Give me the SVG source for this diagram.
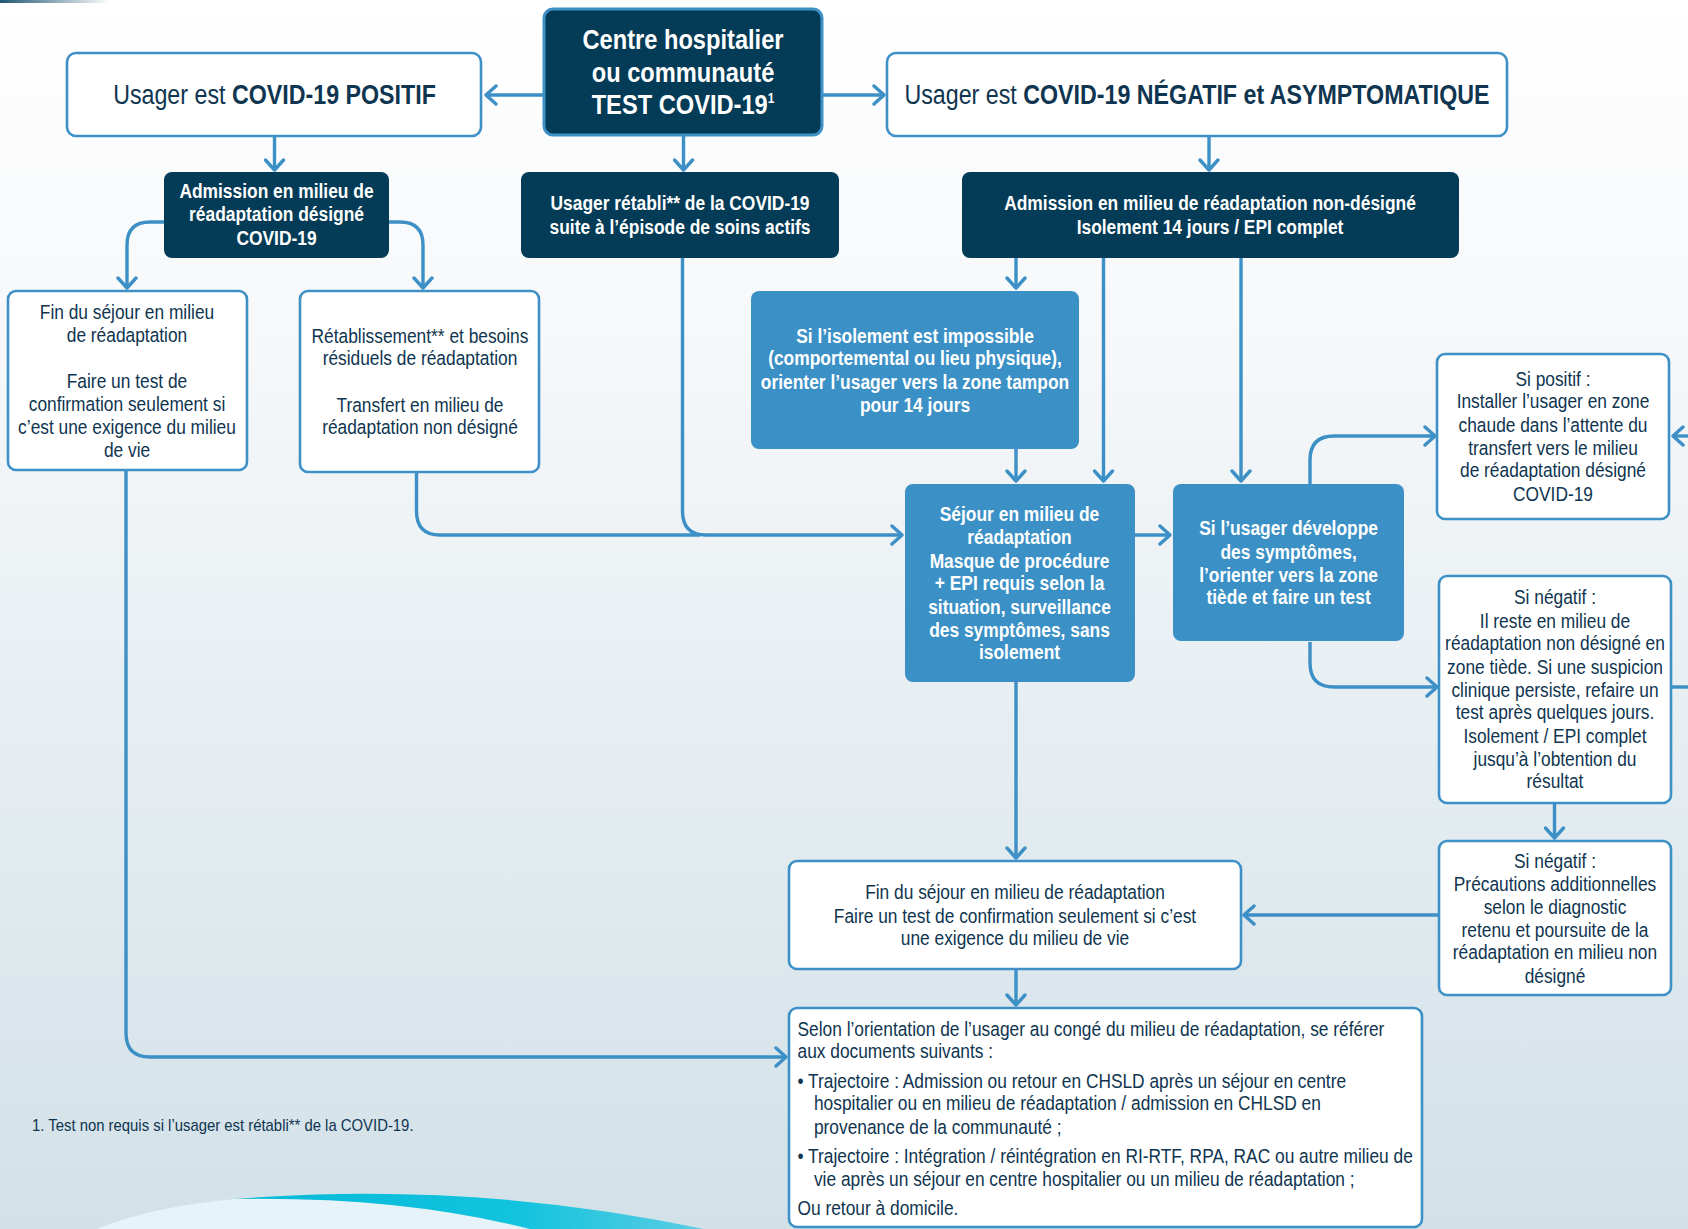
<svg xmlns="http://www.w3.org/2000/svg" width="1688" height="1229" viewBox="0 0 1688 1229">
<defs>
<linearGradient id="bg" x1="0" y1="0" x2="0" y2="1">
<stop offset="0" stop-color="#ffffff"/>
<stop offset="0.3" stop-color="#f5f7f9"/>
<stop offset="1" stop-color="#d2e1e8"/>
</linearGradient>
<linearGradient id="topbar" x1="0" y1="0" x2="1" y2="0">
<stop offset="0" stop-color="#1f5673"/>
<stop offset="1" stop-color="#1f5673" stop-opacity="0"/>
</linearGradient>
<linearGradient id="cyan" x1="0" y1="0" x2="1" y2="0">
<stop offset="0" stop-color="#05b9d8"/>
<stop offset="0.6" stop-color="#12c3de"/>
<stop offset="1" stop-color="#5ccde3"/>
</linearGradient>
<marker id="ah" viewBox="0 0 14 22" refX="12" refY="11" markerWidth="14" markerHeight="22" orient="auto" markerUnits="userSpaceOnUse">
<path d="M2,2 L12,11 L2,20" fill="none" stroke="#3d90c6" stroke-width="3.4" stroke-linecap="round" stroke-linejoin="round"/>
</marker>
<style>
.t{font-family:"Liberation Sans",Arial,sans-serif;}
.w{fill:#ffffff;stroke:#3e91c6;stroke-width:2.6;}
.d{fill:#043b57;}
.b{fill:#3b90c5;}
.dt{fill:#0f3550;font-size:19.5px;text-anchor:middle;}
.wt{fill:#ffffff;font-size:20px;font-weight:bold;text-anchor:middle;}
.big{fill:#0f3550;font-size:28px;text-anchor:middle;}
.st{text-anchor:start;}
.c{fill:none;stroke:#3d90c6;stroke-width:3.4;}
.a{marker-end:url(#ah);}
</style>
</defs>
<rect x="0" y="0" width="1688" height="1229" fill="url(#bg)"/>
<rect x="0" y="0" width="110" height="3" fill="url(#topbar)"/>
<path d="M97,1229 Q150,1207 235,1199 Q400,1196 530,1229 Z" fill="#e6f4f9"/>
<path d="M235,1199 Q470,1180 704,1229 L530,1229 Q400,1196 235,1199 Z" fill="url(#cyan)"/>

<g id="connectors">
<path class="c a" d="M544,95 H486"/>
<path class="c a" d="M822,95 H884"/>
<path class="c a" d="M274.5,136 V170"/>
<path class="c a" d="M683.5,135 V170"/>
<path class="c a" d="M1209,136 V170"/>
<path class="c a" d="M164,222 H150 Q127,222 127,245 V288"/>
<path class="c a" d="M389,222 H400 Q423,222 423,245 V288"/>
<path class="c a" d="M682.5,258 V511 Q682.5,535 706,535 H902"/>
<path class="c" d="M416.5,472 V511 Q416.5,535 440,535 H700"/>
<path class="c a" d="M1016,258 V288"/>
<path class="c a" d="M1103.5,258 V481"/>
<path class="c a" d="M1241,258 V481"/>
<path class="c a" d="M1016,449 V481"/>
<path class="c a" d="M1135,535 H1170"/>
<path class="c a" d="M1310,484 V460 Q1310,436 1334,436 H1435"/>
<path class="c a" d="M1310,642 V663 Q1310,687 1334,687 H1437"/>
<path class="c" d="M1671,687 H1700"/>
<path class="c a" d="M1700,436 H1673"/>
<path class="c a" d="M1554.5,803 V838"/>
<path class="c a" d="M1439,915 H1244"/>
<path class="c a" d="M1016,682 V858"/>
<path class="c a" d="M1016,969 V1005"/>
<path class="c a" d="M126,470 V1033 Q126,1057 150,1057 H786"/>
</g>

<g id="n-centre">
<rect x="544" y="9" width="278" height="126" rx="9" fill="#043b57" stroke="#3e91c6" stroke-width="3"/>
<g transform="translate(683,0) scale(0.845,1)">
<text class="t wt" style="font-size:28px" x="0" y="49.5">Centre hospitalier</text>
<text class="t wt" style="font-size:28px" x="0" y="81.8">ou communauté</text>
<text class="t wt" style="font-size:28px" x="0" y="114">TEST COVID-19<tspan font-size="14" dy="-11">1</tspan></text>
</g>
</g>

<g id="n-positif">
<rect class="w" x="67" y="53" width="414" height="83" rx="9"/>
<g transform="translate(274.5,0) scale(0.83,1)">
<text class="t big" x="0" y="104">Usager est <tspan font-weight="bold">COVID-19 POSITIF</tspan></text>
</g>
</g>

<g id="n-negatif">
<rect class="w" x="887" y="53" width="620" height="83" rx="9"/>
<g transform="translate(1197,0) scale(0.83,1)">
<text class="t big" x="0" y="104">Usager est <tspan font-weight="bold">COVID-19 NÉGATIF et ASYMPTOMATIQUE</tspan></text>
</g>
</g>

<g id="n-adm-designe">
<rect class="d" x="164" y="172" width="225" height="86" rx="8"/>
<g transform="translate(276.5,0) scale(0.87,1)">
<text class="t wt" x="0" y="198.5">Admission en milieu de</text>
<text class="t wt" x="0" y="221">réadaptation désigné</text>
<text class="t wt" x="0" y="244.7">COVID-19</text>
</g>
</g>

<g id="n-retabli">
<rect class="d" x="521" y="172" width="318" height="86" rx="8"/>
<g transform="translate(680,0) scale(0.87,1)">
<text class="t wt" x="0" y="210.4">Usager rétabli** de la COVID-19</text>
<text class="t wt" x="0" y="234">suite à l’épisode de soins actifs</text>
</g>
</g>

<g id="n-adm-non-designe">
<rect class="d" x="962" y="172" width="497" height="86" rx="8"/>
<g transform="translate(1210,0) scale(0.87,1)">
<text class="t wt" x="0" y="210.4">Admission en milieu de réadaptation non-désigné</text>
<text class="t wt" x="0" y="234">Isolement 14 jours / EPI complet</text>
</g>
</g>

<g id="n-fin-sejour-gauche">
<rect class="w" x="8" y="291" width="239" height="179" rx="8"/>
<g transform="translate(127,0) scale(0.89,1)">
<text class="t dt" x="0" y="319">Fin du séjour en milieu</text>
<text class="t dt" x="0" y="341.6">de réadaptation</text>
<text class="t dt" x="0" y="388">Faire un test de</text>
<text class="t dt" x="0" y="410.6">confirmation seulement si</text>
<text class="t dt" x="0" y="434.2">c’est une exigence du milieu</text>
<text class="t dt" x="0" y="456.8">de vie</text>
</g>
</g>

<g id="n-retablissement">
<rect class="w" x="300" y="291" width="239" height="181" rx="8"/>
<g transform="translate(420,0) scale(0.89,1)">
<text class="t dt" x="0" y="342.7">Rétablissement** et besoins</text>
<text class="t dt" x="0" y="365.3">résiduels de réadaptation</text>
<text class="t dt" x="0" y="411.6">Transfert en milieu de</text>
<text class="t dt" x="0" y="434.2">réadaptation non désigné</text>
</g>
</g>

<g id="n-isolement">
<rect class="b" x="751" y="291" width="328" height="158" rx="8"/>
<g transform="translate(915,0) scale(0.87,1)">
<text class="t wt" x="0" y="342.7">Si l’isolement est impossible</text>
<text class="t wt" x="0" y="365.3">(comportemental ou lieu physique),</text>
<text class="t wt" x="0" y="389">orienter l’usager vers la zone tampon</text>
<text class="t wt" x="0" y="411.6">pour 14 jours</text>
</g>
</g>

<g id="n-sejour">
<rect class="b" x="905" y="484" width="230" height="198" rx="8"/>
<g transform="translate(1019.5,0) scale(0.87,1)">
<text class="t wt" x="0" y="521.4">Séjour en milieu de</text>
<text class="t wt" x="0" y="544">réadaptation</text>
<text class="t wt" x="0" y="567.7">Masque de procédure</text>
<text class="t wt" x="0" y="590.3">+ EPI requis selon la</text>
<text class="t wt" x="0" y="613.9">situation, surveillance</text>
<text class="t wt" x="0" y="636.6">des symptômes, sans</text>
<text class="t wt" x="0" y="659.2">isolement</text>
</g>
</g>

<g id="n-symptomes">
<rect class="b" x="1173" y="484" width="231" height="157" rx="8"/>
<g transform="translate(1288.6,0) scale(0.87,1)">
<text class="t wt" x="0" y="535.4">Si l’usager développe</text>
<text class="t wt" x="0" y="559">des symptômes,</text>
<text class="t wt" x="0" y="581.7">l’orienter vers la zone</text>
<text class="t wt" x="0" y="604.3">tiède et faire un test</text>
</g>
</g>

<g id="n-si-positif">
<rect class="w" x="1437" y="354" width="232" height="165" rx="8"/>
<g transform="translate(1553,0) scale(0.89,1)">
<text class="t dt" x="0" y="385.7">Si positif :</text>
<text class="t dt" x="0" y="408.3">Installer l’usager en zone</text>
<text class="t dt" x="0" y="432">chaude dans l’attente du</text>
<text class="t dt" x="0" y="454.6">transfert vers le milieu</text>
<text class="t dt" x="0" y="477.2">de réadaptation désigné</text>
<text class="t dt" x="0" y="500.9">COVID-19</text>
</g>
</g>

<g id="n-si-negatif-1">
<rect class="w" x="1439" y="576" width="232" height="227" rx="8"/>
<g transform="translate(1555,0) scale(0.89,1)">
<text class="t dt" x="0" y="604.3">Si négatif :</text>
<text class="t dt" x="0" y="627.9">Il reste en milieu de</text>
<text class="t dt" x="0" y="650.5">réadaptation non désigné en</text>
<text class="t dt" x="0" y="674.2">zone tiède. Si une suspicion</text>
<text class="t dt" x="0" y="696.8">clinique persiste, refaire un</text>
<text class="t dt" x="0" y="719.4">test après quelques jours.</text>
<text class="t dt" x="0" y="743.1">Isolement / EPI complet</text>
<text class="t dt" x="0" y="765.7">jusqu’à l’obtention du</text>
<text class="t dt" x="0" y="788.3">résultat</text>
</g>
</g>

<g id="n-si-negatif-2">
<rect class="w" x="1439" y="841" width="232" height="154" rx="8"/>
<g transform="translate(1555,0) scale(0.89,1)">
<text class="t dt" x="0" y="868">Si négatif :</text>
<text class="t dt" x="0" y="890.6">Précautions additionnelles</text>
<text class="t dt" x="0" y="914.3">selon le diagnostic</text>
<text class="t dt" x="0" y="936.9">retenu et poursuite de la</text>
<text class="t dt" x="0" y="959.5">réadaptation en milieu non</text>
<text class="t dt" x="0" y="983.2">désigné</text>
</g>
</g>

<g id="n-fin-sejour">
<rect class="w" x="789" y="861" width="452" height="108" rx="8"/>
<g transform="translate(1015,0) scale(0.89,1)">
<text class="t dt" x="0" y="899.2">Fin du séjour en milieu de réadaptation</text>
<text class="t dt" x="0" y="922.9">Faire un test de confirmation seulement si c’est</text>
<text class="t dt" x="0" y="945.5">une exigence du milieu de vie</text>
</g>
</g>

<g id="n-orientation">
<rect class="w" x="789" y="1008" width="633" height="219" rx="8"/>
<g transform="translate(797.5,0) scale(0.89,1)">
<text class="t dt st" x="0" y="1035.9">Selon l’orientation de l’usager au congé du milieu de réadaptation, se référer</text>
<text class="t dt st" x="0" y="1058.5">aux documents suivants :</text>
<text class="t dt st" x="0" y="1087.6">• Trajectoire : Admission ou retour en CHSLD après un séjour en centre</text>
<text class="t dt st" x="18.5" y="1110.2">hospitalier ou en milieu de réadaptation / admission en CHLSD en</text>
<text class="t dt st" x="18.5" y="1133.9">provenance de la communauté ;</text>
<text class="t dt st" x="0" y="1163">• Trajectoire : Intégration / réintégration en RI-RTF, RPA, RAC ou autre milieu de</text>
<text class="t dt st" x="18.5" y="1185.6">vie après un séjour en centre hospitalier ou un milieu de réadaptation ;</text>
<text class="t dt st" x="0" y="1214.6">Ou retour à domicile.</text>
</g>
</g>

<g transform="translate(32,0) scale(0.93,1)">
<text class="t" x="0" y="1131" font-size="16" fill="#0f3550">1.  Test non requis si l’usager est rétabli** de la COVID-19.</text>
</g>
</svg>
